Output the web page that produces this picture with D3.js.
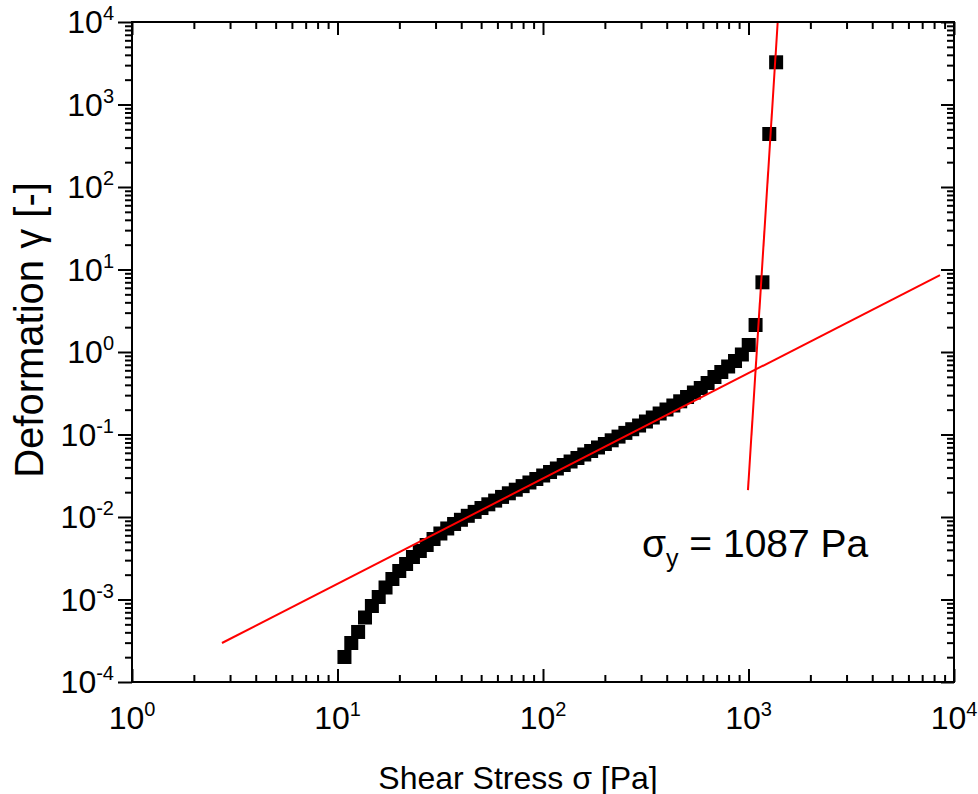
<!DOCTYPE html>
<html>
<head>
<meta charset="utf-8">
<script src="https://cdn.jsdelivr.net/npm/d3@7"></script>
<style>
body{margin:0;background:#fff;}
text{font-family:"Liberation Sans",Arial,sans-serif;fill:#000;}
</style>
</head>
<body>
<script>
// shear stress sweep (Pa) and deformation (-)
var stress = [10.81,11.67,12.60,13.61,14.70,15.87,17.13,18.50,19.98,21.57,
	23.29,25.15,27.16,29.33,31.67,34.20,36.93,39.87,43.05,46.49,
	50.19,54.2,58.5,63.2,68.2,73.7,79.6,85.9,92.8,100.2,
	108.2,116.8,126.1,136.2,147.1,158.8,171.5,185.2,200.0,215.9,
	233.1,251.7,271.8,293.5,316.9,342.2,369.5,399.0,430.8,465.2,
	502.3,542.4,585.7,632.4,682.9,737.4,796.2,859.8,928.4,1002.5,
	1082.5,1168.9,1262.2,1362.9];
var deformation = [2.01e-4,2.97e-4,4.04e-4,6.05e-4,8.34e-4,1.072e-3,1.398e-3,1.772e-3,2.216e-3,2.694e-3,
	3.275e-3,3.872e-3,4.577e-3,5.41e-3,6.31e-3,7.26e-3,8.23e-3,9.25e-3,0.01034,0.01153,
	0.01285,0.01425,0.0158,0.01752,0.01938,0.02142,0.02368,0.0262,0.02888,0.03184,
	0.03511,0.03872,0.04269,0.04707,0.0519,0.05723,0.0631,0.06957,0.07671,0.08506,
	0.0943,0.1046,0.1159,0.1285,0.1437,0.1607,0.1797,0.2009,0.2246,0.2526,
	0.2848,0.3229,0.3662,0.4209,0.4977,0.5723,0.6672,0.7778,0.9326,1.216,
	2.125,6.996,439,3247];

// fitted lines (start, end)
var fitLinear = [[2.74,2.97e-4],[8550,8.57]];
var fitFlow = [[994,0.0212],[1387,1e4]];

var xDecades = [0,1,2,3,4];
var yDecades = [-4,-3,-2,-1,0,1,2,3,4];
var annotation = {x:1087, label:"1087 Pa"};

var W = 978, H = 794;
var pL = 132, pT = 22, pR = 954, pB = 682;

var svg = d3.select("body").append("svg")
	.attr("width",W)
	.attr("height",H);

var x = d3.scaleLog().domain([1,1e4]).range([pL,pR]);
var y = d3.scaleLog().domain([1e-4,1e4]).range([pB,pT]);

var minors = function(decs){
	var out = [];
	for(var k=0;k<decs.length-1;k++)
		for(var m=2;m<10;m++) out.push(m*Math.pow(10,decs[k]));
	return out;
};
var xMaj = xDecades.map(function(d){return Math.pow(10,d);});
var yMaj = yDecades.map(function(d){return Math.pow(10,d);});

svg.append("clipPath").attr("id","plotclip")
	.append("rect").attr("x",pL).attr("y",pT)
	.attr("width",pR-pL).attr("height",pB-pT);

var plot = svg.append("g").attr("clip-path","url(#plotclip)");

// data squares
plot.selectAll("rect.pt")
	.data(stress)
	.enter()
	.append("rect")
	.attr("class","pt")
	.attr("x",function(d){return x(d)-7;})
	.attr("y",function(d,i){return y(deformation[i])-7;})
	.attr("width",14)
	.attr("height",14)
	.attr("fill","#000");

var line = d3.line()
	.x(function(d){return x(d[0]);})
	.y(function(d){return y(d[1]);});

[fitLinear,fitFlow].forEach(function(f){
	plot.append("path")
		.attr("d",line(f))
		.attr("fill","none")
		.attr("stroke","#ff0000")
		.attr("stroke-width",2);
});

// axes: bottom/top/right ticks inward, left ticks outward
var axisStyle = function(g){
	g.select(".domain").remove();
	g.selectAll("text").remove();
	g.selectAll("line").attr("stroke","#000").attr("stroke-width",2);
};
svg.append("g").attr("transform","translate(0,"+pB+")")
	.call(d3.axisBottom(x).tickValues(xMaj).tickSize(-13)).call(axisStyle);
svg.append("g").attr("transform","translate(0,"+pB+")")
	.call(d3.axisBottom(x).tickValues(minors(xDecades)).tickSize(-7)).call(axisStyle);
svg.append("g").attr("transform","translate(0,"+pT+")")
	.call(d3.axisTop(x).tickValues(xMaj).tickSize(-13)).call(axisStyle);
svg.append("g").attr("transform","translate(0,"+pT+")")
	.call(d3.axisTop(x).tickValues(minors(xDecades)).tickSize(-7)).call(axisStyle);
svg.append("g").attr("transform","translate("+pL+",0)")
	.call(d3.axisLeft(y).tickValues(yMaj).tickSize(14)).call(axisStyle);
svg.append("g").attr("transform","translate("+pL+",0)")
	.call(d3.axisLeft(y).tickValues(minors(yDecades)).tickSize(7)).call(axisStyle);
svg.append("g").attr("transform","translate("+pR+",0)")
	.call(d3.axisRight(y).tickValues(yMaj).tickSize(-13)).call(axisStyle);
svg.append("g").attr("transform","translate("+pR+",0)")
	.call(d3.axisRight(y).tickValues(minors(yDecades)).tickSize(-7)).call(axisStyle);

svg.append("rect")
	.attr("x",pL).attr("y",pT)
	.attr("width",pR-pL).attr("height",pB-pT)
	.attr("fill","none").attr("stroke","#000").attr("stroke-width",2);

// tick labels 10^n
var powLabel = function(sel){
	sel.text("10").append("tspan")
		.attr("dy",-13).attr("font-size",20)
		.text(function(d){return d;});
};
svg.selectAll("text.xl")
	.data(xDecades).enter().append("text")
	.attr("class","xl")
	.attr("x",function(d){return x(Math.pow(10,d));})
	.attr("y",pB+47)
	.attr("text-anchor","middle")
	.attr("font-size",32)
	.call(powLabel);
svg.selectAll("text.yl")
	.data(yDecades).enter().append("text")
	.attr("class","yl")
	.attr("x",pL-18)
	.attr("y",function(d){return y(Math.pow(10,d))+11;})
	.attr("text-anchor","end")
	.attr("font-size",32)
	.call(powLabel);

// axis titles
svg.append("text")
	.attr("x",(pL+pR)/2 - 25)
	.attr("y",789)
	.attr("text-anchor","middle")
	.attr("font-size",32)
	.text("Shear Stress \u03c3 [Pa]");
svg.append("text")
	.attr("transform","translate(43,330) rotate(-90)")
	.attr("text-anchor","middle")
	.attr("font-size",40)
	.text("Deformation \u03b3 [-]");

// yield stress note
var note = svg.append("text")
	.attr("x",x(annotation.x)-114)
	.attr("y",557)
	.attr("font-size",39);
note.append("tspan").text("\u03c3");
note.append("tspan").attr("dy",10).attr("font-size",25).text("y");
note.append("tspan").attr("dy",-10).text(" = "+annotation.label);
</script>
</body>
</html>
